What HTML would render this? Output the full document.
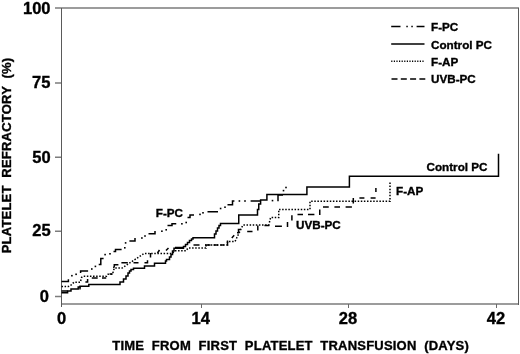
<!DOCTYPE html>
<html><head><meta charset="utf-8"><title>Platelet refractory</title>
<style>
html,body{margin:0;padding:0;background:#fff;}
svg{display:block;}
text{font-family:"Liberation Sans",Arial,Helvetica,sans-serif;font-weight:bold;fill:#000;stroke:#000;stroke-width:0.35;}
.ax{stroke:#7a7a7a;stroke-width:1;fill:none;shape-rendering:crispEdges;}
.c{stroke:#000;stroke-width:1.5;fill:none;stroke-linejoin:miter;stroke-linecap:butt;}
.d{fill:#000;}
</style></head>
<body>
<svg width="520" height="354" viewBox="0 0 520 354">
<rect width="520" height="354" fill="#fff"/>
<!-- axes -->
<g stroke="#7c7c7c" stroke-width="1.5" fill="none">
<path d="M55,8.1 H519 M61,304 H519"/>
<path d="M55,82.95 H61.5 M55,157.35 H61.5 M55,231.25 H61.5 M55,296.55 H61.5"/>
</g>
<g stroke="#5a5a5a" stroke-width="1" fill="none" shape-rendering="crispEdges">
<path d="M61.5,8 V307 M518.5,8 V304.5"/>
<path d="M201.5,303.5 V307.6 M348.5,303.5 V307.6 M496.5,303.5 V307.6" stroke="#6a6a6a"/>
</g>
<!-- tick labels -->
<g font-size="16.5" text-anchor="end">
<text x="50.5" y="13.5">100</text>
<text x="50.4" y="88.4">75</text>
<text x="50.7" y="162.6">50</text>
<text x="50.6" y="236.4">25</text>
<text x="49" y="302.2">0</text>
</g>
<g font-size="16.5" text-anchor="middle">
<text x="61.5" y="324.25">0</text>
<text x="200.8" y="324.25">14</text>
<text x="348" y="324.25">28</text>
<text x="496" y="324.25">42</text>
</g>
<!-- axis titles -->
<text x="112.3" y="349.6" font-size="13" textLength="356.5" lengthAdjust="spacing" xml:space="preserve">TIME  FROM  FIRST  PLATELET  TRANSFUSION  (DAYS)</text>
<text transform="translate(11.1,253.3) rotate(-90)" font-size="13" textLength="195.5" lengthAdjust="spacing" xml:space="preserve">PLATELET  REFRACTORY  (%)</text>
<!-- legend -->
<g class="c">
<path d="M391.2,26.5 H400.5 M416.6,26.5 H424.5"/>
<path d="M391.2,44 H424.5"/>
<path d="M391.2,61.3 H424.5" stroke-dasharray="1.2 1.4"/>
<path d="M391.5,79 H425.3" stroke-dasharray="6 3.3"/>
</g>
<rect class="d" x="406.3" y="25.75" width="1.5" height="1.5"/><rect class="d" x="411.3" y="25.75" width="1.5" height="1.5"/>
<g font-size="11.7">
<text x="431" y="31.1">F-PC</text>
<text x="431" y="48.9">Control PC</text>
<text x="431" y="66.2">F-AP</text>
<text x="431" y="83.4">UVB-PC</text>
<text x="155.8" y="216.9">F-PC</text>
<text x="426.5" y="170.5">Control PC</text>
<text x="396" y="194.7">F-AP</text>
<text x="296" y="229">UVB-PC</text>
</g>
<!-- Control PC solid -->
<path class="c" d="M61.5,292.8 H67.6 V291 H71 V288.9 H78.2 V287 H80 V286.3 H88.8 V284.5 H120 V282 H123.5 V279 H126 V276 H128 V273 H129.5 V271 H131 V269.5 H133.5 V268.3 H144.5 V266 H154.5 V263.3 H165.5 V261 H166.5 V259.5 H169.5 V257 H171 V254.5 H172.5 V251 H174 V248.2 H183.5 V246.5 H185.5 V244.5 H187.5 V242.5 H189.5 V240.5 H191.5 V239 H193 V237.8 H214.5 V234 H216 V231 H217.5 V228 H219 V225.5 H220.5 V223.6 H238.75 V215 H257.5 V209.4 H258.75 V204 H260.6 V200 H266.9 V194.4 H306.9 V186.9 H349.4 V176.25 H498.5 V153.7"/>
<!-- F-AP dotted -->
<path class="c" stroke-dasharray="1.5 1.6" d="M61.5,286.6 H68 L70.2,285.9 L74,282.2 H80.3 L81.6,277.4 L83,276.3 H106.5 L108,274.2 H112.5 L114.3,268.1 H122 L144,253.5 H172 L175,250.8 H186 L188,248 H206 V245 H227.5 V241.5 H235 L242.9,225 H268.75 L270.6,217.5 H278.75 V209.4 H310 V201.25 H390 V182.5"/>
<!-- UVB-PC dashed (explicit dashes) -->
<path class="c" d="M61.5,291 H67.6 M80,286.5 V289.5 M85.4,282 H87.6 V279 M91.8,277.9 H97.7 M102,277.9 H106.25 M109.5,274 H112.6 M113.6,268 L114.3,266 V264.8 H118.4 M121.4,262.7 H127.8 M133.5,262.7 H138.5 M144.5,262.7 H147.5 V260.3 M150.5,257.5 V253 M157.5,253 L159.5,250 M166,250.5 L168.5,248 M175,247.4 H183
M193.5,245 H199.5 M205,245 H210.5 M213.5,245 H218 M220.5,245 H224 M227.5,240.5 V245.5 M231.8,238 L234.2,235.2 M237,232.8 H238.5 V229.6 H240.5 M247.2,231.5 H252.5 M257.8,225.6 V230.4 M264.4,225.6 H269.4 M275,226.25 H281.9 M287.5,221.9 V226.9 M291.9,215.3 V220.6 M297.5,214.6 H303 M308,214.6 H314.4 M319.75,209.4 V215 M323,207.1 H328.75 M334.4,207.1 H340 M345.6,207.1 H351.9 M353.3,198 V203.5 M359.4,198 H364.4 M370.6,198 H375.6 M375.9,188 V192"/>
<!-- F-PC dash-dot-dot -->
<path class="c" d="M61.5,281.4 H68.4 V279.2 M80.6,273 V271 H88.1 M98.7,264.5 H100.8 V258.6 H103.6 M113.5,251.4 H115.5 V249.5 H121.6 M129.4,241 H135 V238 M148.5,233.75 H155 V231 M167.5,225.6 H172 V223.75 H176.25 M187.5,217.5 H190 V215 H194 M207.5,211.75 H218 M227.5,204.75 H232.5 V201 H234.4 M250.6,201 H260 M278,201.25 V195 H283"/>
<g class="d">
<rect x="71.1" y="274.9" width="1.6" height="1.6"/><rect x="75.3" y="273.5" width="1.6" height="1.6"/>
<rect x="91" y="268.2" width="1.6" height="1.6"/><rect x="94.6" y="265.6" width="1.6" height="1.6"/>
<rect x="104.3" y="253.8" width="1.6" height="1.6"/><rect x="109.2" y="253" width="1.6" height="1.6"/>
<rect x="124" y="247" width="1.6" height="1.6"/><rect x="124.8" y="242.1" width="1.6" height="1.6"/>
<rect x="141.1" y="237.2" width="1.6" height="1.6"/><rect x="144.2" y="235.2" width="1.6" height="1.6"/>
<rect x="161.1" y="230.4" width="1.6" height="1.6"/><rect x="165.4" y="229" width="1.6" height="1.6"/>
<rect x="181.1" y="223" width="1.6" height="1.6"/><rect x="185.4" y="221.7" width="1.6" height="1.6"/>
<rect x="199.2" y="213.6" width="1.6" height="1.6"/><rect x="202.2" y="212" width="1.6" height="1.6"/>
<rect x="219.8" y="207.7" width="1.6" height="1.6"/><rect x="224.2" y="206.4" width="1.6" height="1.6"/>
<rect x="238.6" y="200.2" width="1.6" height="1.6"/><rect x="244.2" y="200.2" width="1.6" height="1.6"/>
<rect x="271.7" y="199.8" width="1.6" height="1.6"/>
<rect x="282.7" y="189.8" width="1.6" height="1.6"/><rect x="285.2" y="186.7" width="1.6" height="1.6"/>
</g>
</svg>
</body></html>
